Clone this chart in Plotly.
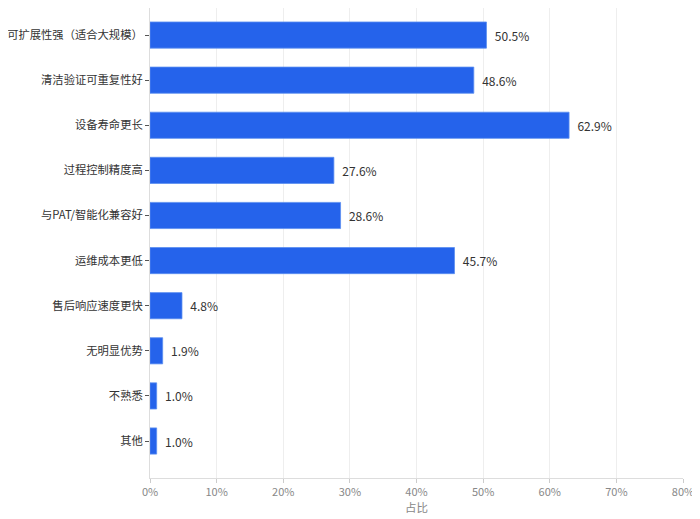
import plotly.graph_objects as go

# 选项与占比（%）
categories = ["可扩展性强（适合大规模）", "清洁验证可重复性好", "设备寿命更长", "过程控制精度高",
              "与PAT/智能化兼容好", "运维成本更低", "售后响应速度更快", "无明显优势", "不熟悉", "其他"]
values = [50.5, 48.6, 62.9, 27.6, 28.6, 45.7, 4.8, 1.9, 1.0, 1.0]
x_ticks = [0, 10, 20, 30, 40, 50, 60, 70, 80]

font = "Noto Sans CJK SC, Microsoft YaHei, sans-serif"

bars = go.Bar(
    x=values, y=categories, orientation="h",
    marker=dict(color="#2563EB", line=dict(color="#5b8ef0", width=0.8)),
    width=0.58,
    text=[f"  {v:.1f}%" for v in values],
    textposition="outside",
    textfont=dict(size=12, color="#333333", family=font),
    cliponaxis=False,
)

# page body adds ~8px offset, so the figure is a bit smaller than the window
fig = go.Figure(data=bars)
fig.update_layout(
    width=692, height=511,
    margin=dict(l=142, r=17, t=0, b=41),
    plot_bgcolor="white", paper_bgcolor="white",
    font=dict(family=font, size=12, color="#333333"),
    showlegend=False,
)
fig.update_xaxes(
    range=[0, 80], tickvals=x_ticks, ticktext=[f"{t}%" for t in x_ticks],
    showgrid=True, gridcolor="#eeeeee", gridwidth=1,
    showline=True, linecolor="#dddddd", ticks="outside", ticklen=4, tickcolor="#cccccc",
    tickfont=dict(size=11, color="#888888"),
    title=dict(text="占比", font=dict(size=11.5, color="#888888"), standoff=0),
    zeroline=False, automargin=False,
)
fig.update_yaxes(
    categoryorder="array", categoryarray=categories,
    range=[9.82, -0.6],
    showgrid=False, showline=True, linecolor="#dddddd",
    ticks="outside", ticklen=4, tickcolor="#555555",
    tickfont=dict(size=11.3, color="#333333"),
    automargin=False,
)

fig.write_html("out.html")
